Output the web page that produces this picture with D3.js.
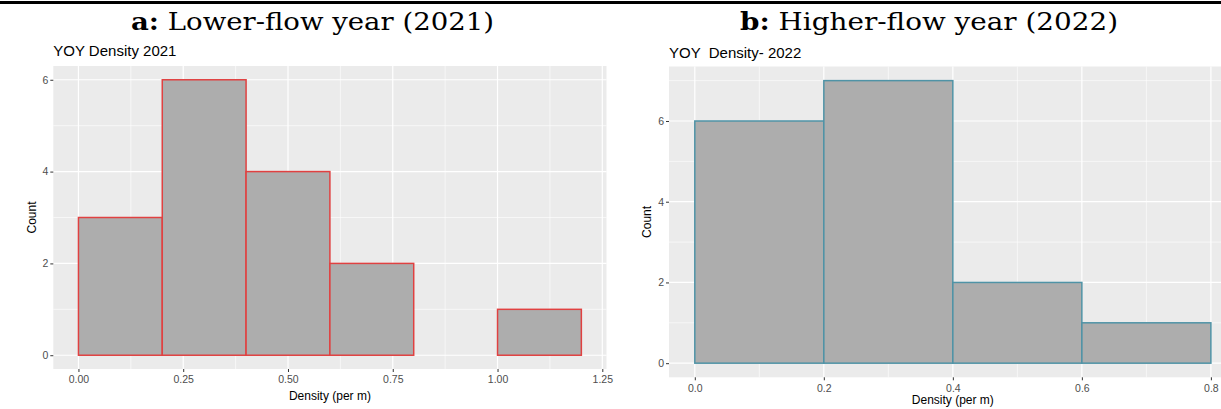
<!DOCTYPE html>
<html>
<head>
<meta charset="utf-8">
<script src="https://cdn.jsdelivr.net/npm/d3@7"></script>
<style>
  html, body { margin: 0; padding: 0; background: #fff; }
  svg { display: block; }
</style>
</head>
<body>
<svg id="chart" width="1221" height="409"></svg>
<script>
/*
 * Data
 * ========================================================================== */

// 2021 (lower flow)
const edges2021 = [0, 0.2, 0.4, 0.6, 0.8, 1.0, 1.2];
const counts2021 = [3, 6, 4, 2, 0, 1];
const xTicks2021 = [0, 0.25, 0.5, 0.75, 1.0, 1.25];

// 2022 (higher flow)
const edges2022 = [0, 0.2, 0.4, 0.6, 0.8];
const counts2022 = [6, 7, 2, 1];
const xTicks2022 = [0, 0.2, 0.4, 0.6, 0.8];

const yTicks = [0, 2, 4, 6];

const svg = d3.select('#chart');

// Header rule
svg.append('rect')
    .attr('x', 0).attr('y', 1)
    .attr('width', 1221).attr('height', 3)
    .attr('fill', '#000');

/*
 * Panel header  (a: / b:)
 */
function header(cx, bold, rest, width) {
  const t = svg.append('text')
      .attr('x', cx)
      .attr('y', 30)
      .attr('text-anchor', 'middle')
      .attr('font-family', '"DejaVu Serif", "Liberation Serif", serif')
      .attr('font-size', 25)
      .attr('textLength', width)
      .attr('lengthAdjust', 'spacingAndGlyphs')
      .attr('fill', '#000');
  t.append('tspan').attr('font-weight', 'bold').text(bold);
  t.append('tspan').text(rest);
}

header(312.5, 'a:', ' Lower-flow year (2021)', 363);
header(929, 'b:', ' Higher-flow year (2022)', 378);

/*
 * One ggplot-style histogram
 */
function histogram(o) {
  const x = d3.scaleLinear().domain(o.xDomain).range([o.left, o.right]);
  const y = d3.scaleLinear().domain(o.yDomain).range([o.bottom, o.top]);
  const g = svg.append('g');

  // panel background
  g.append('rect')
      .attr('x', o.left).attr('y', o.top)
      .attr('width', o.right - o.left).attr('height', o.bottom - o.top)
      .attr('fill', '#EBEBEB');

  // minor grid
  const step = o.xTicks[1] - o.xTicks[0];
  const xMinor = o.xTicks.map(d => d + step / 2).filter(d => x(d) < o.right);
  xMinor.unshift(o.xTicks[0] - step / 2);
  g.selectAll('line.xminor')
      .data(xMinor.filter(d => x(d) > o.left))
    .enter().append('line')
      .attr('x1', d => x(d)).attr('x2', d => x(d))
      .attr('y1', o.top).attr('y2', o.bottom)
      .attr('stroke', '#fff').attr('stroke-width', 0.6);

  const yMinor = d3.range(1, o.yDomain[1], 2);
  g.selectAll('line.yminor')
      .data(yMinor)
    .enter().append('line')
      .attr('x1', o.left).attr('x2', o.right)
      .attr('y1', d => y(d)).attr('y2', d => y(d))
      .attr('stroke', '#fff').attr('stroke-width', 0.6);

  // major grid
  g.selectAll('line.xmajor')
      .data(o.xTicks)
    .enter().append('line')
      .attr('x1', d => x(d)).attr('x2', d => x(d))
      .attr('y1', o.top).attr('y2', o.bottom)
      .attr('stroke', '#fff').attr('stroke-width', 1.2);

  g.selectAll('line.ymajor')
      .data(yTicks)
    .enter().append('line')
      .attr('x1', o.left).attr('x2', o.right)
      .attr('y1', d => y(d)).attr('y2', d => y(d))
      .attr('stroke', '#fff').attr('stroke-width', 1.2);

  // bars
  const bins = o.counts.map((c, i) => ({ x0: o.edges[i], x1: o.edges[i + 1], n: c }));
  g.selectAll('rect.bar')
      .data(bins)
    .enter().append('rect')
      .attr('x', d => x(d.x0))
      .attr('y', d => y(d.n))
      .attr('width', d => x(d.x1) - x(d.x0))
      .attr('height', d => y(0) - y(d.n))
      .attr('fill', '#ADADAD')
      .attr('stroke', o.stroke)
      .attr('stroke-width', 1.5);

  // axes
  const xAxis = d3.axisBottom(x)
      .tickValues(o.xTicks)
      .tickFormat(d3.format(o.fmt))
      .tickSize(3).tickPadding(o.xPad);
  const ax = g.append('g')
      .attr('transform', 'translate(0,' + o.bottom + ')')
      .call(xAxis);

  const yAxis = d3.axisLeft(y)
      .tickValues(yTicks)
      .tickFormat(d3.format('d'))
      .tickSize(3).tickPadding(2);
  const ay = g.append('g')
      .attr('transform', 'translate(' + o.left + ',0)')
      .call(yAxis);

  [ax, ay].forEach(a => {
    a.attr('font-size', null).attr('font-family', null);
    a.select('.domain').remove();
    a.selectAll('.tick line').attr('stroke', '#333').attr('stroke-width', 1);
    a.selectAll('.tick text')
        .attr('fill', '#4D4D4D')
        .attr('font-family', '"Liberation Sans", Arial, sans-serif')
        .attr('font-size', 10.5);
  });

  // titles
  g.append('text')
      .attr('x', o.left)
      .attr('y', o.titleY)
      .attr('font-family', '"Liberation Sans", Arial, sans-serif')
      .attr('font-size', 15)
      .attr('fill', '#000')
      .style('white-space', 'pre')
      .text(o.title);

  g.append('text')
      .attr('x', (o.left + o.right) / 2)
      .attr('y', o.xTitleY)
      .attr('text-anchor', 'middle')
      .attr('font-family', '"Liberation Sans", Arial, sans-serif')
      .attr('font-size', 12)
      .attr('fill', '#000')
      .text('Density (per m)');

  g.append('text')
      .attr('transform', 'translate(' + o.yTitleX + ',' + (o.top + o.bottom) / 2 + ') rotate(-90)')
      .attr('text-anchor', 'middle')
      .attr('font-family', '"Liberation Sans", Arial, sans-serif')
      .attr('font-size', 12)
      .attr('fill', '#000')
      .text('Count');
}

histogram({
  edges: edges2021, counts: counts2021, xTicks: xTicks2021, fmt: '.2f',
  xDomain: [-0.06, 1.26], yDomain: [-0.3, 6.3],
  left: 53.3, right: 606.5, top: 66, bottom: 369,
  stroke: '#E04141', xPad: 4,
  title: 'YOY Density 2021', titleY: 56,
  xTitleY: 400, yTitleX: 36
});

histogram({
  edges: edges2022, counts: counts2022, xTicks: xTicks2022, fmt: '.1f',
  xDomain: [-0.04, 0.84], yDomain: [-0.35, 7.35],
  left: 669, right: 1236.7, top: 66.5, bottom: 377.3,
  stroke: '#4F93A6', xPad: 4,
  title: 'YOY  Density- 2022', titleY: 58,
  xTitleY: 404, yTitleX: 651
});
</script>
</body>
</html>
